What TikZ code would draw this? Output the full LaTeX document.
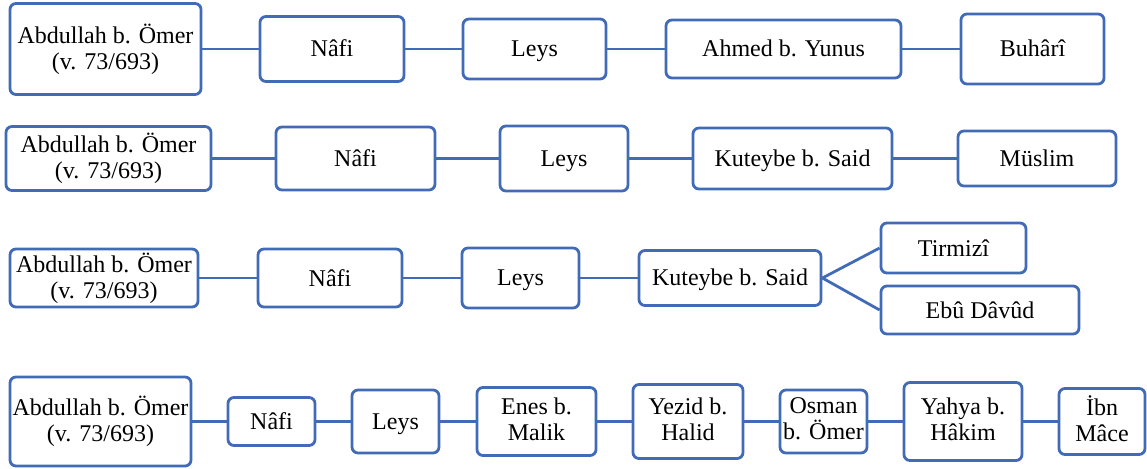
\documentclass[tikz,border=0pt]{standalone}
\usepackage{fontspec}
\setmainfont{Liberation Serif}
\usepackage{xcolor}
\usetikzlibrary{positioning}

\definecolor{isnadblue}{RGB}{66,107,183}
\newcommand{\boxstrut}{\rule[-5pt]{0pt}{26pt}}

\begin{document}
\begin{tikzpicture}[x=1pt, y=-1pt,
    box/.style={draw=isnadblue, line width=2.8pt, rounded corners=6pt, fill=white,
        align=center, inner sep=0pt, font=\fontsize{24}{26}\selectfont,
        execute at begin node=\boxstrut, execute at end node=\boxstrut},
    link/.style={draw=isnadblue, line width=2.8pt}]
    \useasboundingbox (0,0) rectangle (1147,468);

    % Chain 1: Buhari
    \node[box, minimum width=191pt, minimum height=91pt] (abd1) at (105.5,49) {Abdullah b. Ömer\\(v. 73/693)};
    \node[box, minimum width=144pt, minimum height=65pt] (nafi1) at (332,49) {Nâfi};
    \node[box, minimum width=143pt, minimum height=60pt] (leys1) at (534.5,49) {Leys};
    \node[box, minimum width=235pt, minimum height=58pt] (ahmed) at (783.5,49) {Ahmed b. Yunus};
    \node[box, minimum width=143pt, minimum height=70pt] (buhari) at (1032.5,49) {Buhârî};
    \draw[link] (abd1) -- (nafi1);
    \draw[link] (nafi1) -- (leys1);
    \draw[link] (leys1) -- (ahmed);
    \draw[link] (ahmed) -- (buhari);

    % Chain 2: Muslim
    \node[box, minimum width=205pt, minimum height=64pt] (abd2) at (108.5,158.5) {Abdullah b. Ömer\\(v. 73/693)};
    \node[box, minimum width=159pt, minimum height=63pt] (nafi2) at (355.5,158.5) {Nâfi};
    \node[box, minimum width=128pt, minimum height=65pt] (leys2) at (564,158.5) {Leys};
    \node[box, minimum width=199pt, minimum height=61pt] (kuteybe2) at (792.5,158.5) {Kuteybe b. Said};
    \node[box, minimum width=158pt, minimum height=55pt] (muslim) at (1037,158.5) {Müslim};
    \draw[link] (abd2) -- (nafi2);
    \draw[link] (nafi2) -- (leys2);
    \draw[link] (leys2) -- (kuteybe2);
    \draw[link] (kuteybe2) -- (muslim);

    % Chain 3: Tirmizi and Ebu Davud
    \node[box, minimum width=188pt, minimum height=58pt] (abd3) at (104,278) {Abdullah b. Ömer\\(v. 73/693)};
    \node[box, minimum width=144pt, minimum height=58pt] (nafi3) at (330,278) {Nâfi};
    \node[box, minimum width=117pt, minimum height=60pt] (leys3) at (520.5,278) {Leys};
    \node[box, minimum width=182pt, minimum height=55pt] (kuteybe3) at (730,278) {Kuteybe b. Said};
    \node[box, minimum width=145pt, minimum height=50pt] (tirmizi) at (953.5,248) {Tirmizî};
    \node[box, minimum width=198pt, minimum height=48pt] (ebudavud) at (980,310) {Ebû Dâvûd};
    \draw[link] (abd3) -- (nafi3);
    \draw[link] (nafi3) -- (leys3);
    \draw[link] (leys3) -- (kuteybe3);
    \draw[link] (kuteybe3.east) -- (tirmizi.west);
    \draw[link] (kuteybe3.east) -- (ebudavud.west);

    % Chain 4: Ibn Mace
    \node[box, minimum width=181pt, minimum height=89pt] (abd4) at (100.5,421.5) {Abdullah b. Ömer\\(v. 73/693)};
    \node[box, minimum width=87pt, minimum height=48pt] (nafi4) at (271.5,421.5) {Nâfi};
    \node[box, minimum width=87pt, minimum height=63pt] (leys4) at (395.5,421.5) {Leys};
    \node[box, minimum width=119pt, minimum height=68pt] (enes) at (536.5,421.5) {Enes b.\\Malik};
    \node[box, minimum width=110pt, minimum height=74pt] (yezid) at (688,421.5) {Yezid b.\\Halid};
    \node[box, minimum width=87pt, minimum height=63pt] (osman) at (823.5,421.5) {Osman\\b. Ömer};
    \node[box, minimum width=118pt, minimum height=78pt] (yahya) at (963,421.5) {Yahya b.\\Hâkim};
    \node[box, minimum width=86pt, minimum height=66pt] (ibnmace) at (1102,421.5) {İbn\\Mâce};
    \draw[link] (abd4) -- (nafi4);
    \draw[link] (nafi4) -- (leys4);
    \draw[link] (leys4) -- (enes);
    \draw[link] (enes) -- (yezid);
    \draw[link] (yezid) -- (osman);
    \draw[link] (osman) -- (yahya);
    \draw[link] (yahya) -- (ibnmace);
\end{tikzpicture}
\end{document}
